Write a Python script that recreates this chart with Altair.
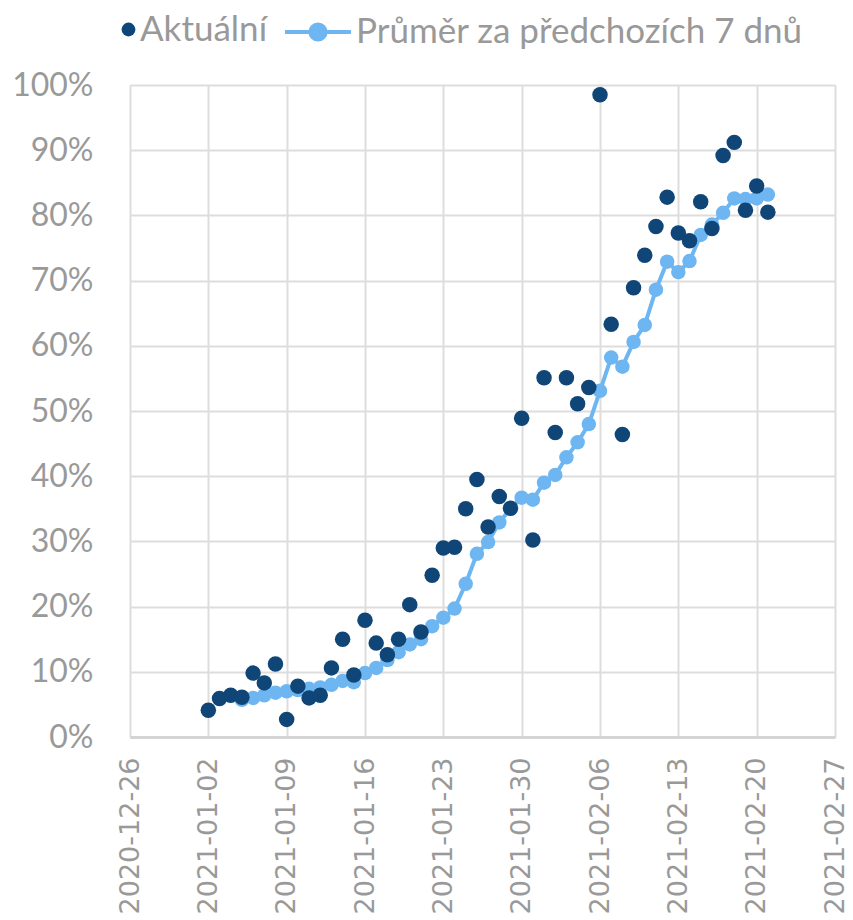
import altair as alt
import pandas as pd

# ---- data ----
actual_start = "2021-01-02"
actual_values = [4.1, 5.9, 6.4, 6.1, 9.8, 8.3, 11.2, 2.7, 7.8, 6.0, 6.4, 10.6, 15.0, 9.5,
                 17.9, 14.4, 12.6, 15.0, 20.3, 16.1, 24.8, 29.0, 29.1, 35.0, 39.5, 32.2,
                 36.9, 35.1, 48.9, 30.2, 55.1, 46.7, 55.1, 51.1, 53.6, 98.5, 63.3, 46.4,
                 68.9, 73.9, 78.3, 82.8, 77.3, 76.1, 82.1, 78.0, 89.2, 91.2, 80.8, 84.5, 80.5]
avg_start = "2021-01-05"
avg_values = [5.7, 6.0, 6.4, 6.8, 7.0, 7.2, 7.4, 7.6, 8.0, 8.6, 8.4, 9.8, 10.6, 11.8, 13.0,
              14.2, 15.0, 17.0, 18.3, 19.7, 23.5, 28.1, 29.9, 32.9, 35.0, 36.7, 36.4, 39.0,
              40.2, 42.9, 45.2, 48.0, 53.1, 58.2, 56.8, 60.6, 63.2, 68.6, 72.9, 71.3, 73.0,
              77.0, 78.6, 80.4, 82.6, 82.5, 82.6, 83.2]
tick_dates = ["2020-12-26", "2021-01-02", "2021-01-09", "2021-01-16", "2021-01-23",
              "2021-01-30", "2021-02-06", "2021-02-13", "2021-02-20", "2021-02-27"]
y_ticks = [0, 10, 20, 30, 40, 50, 60, 70, 80, 90, 100]

name_actual = "Aktuální"
name_avg = "Průměr za předchozích 7 dnů"

dark = "#0F4677"
light = "#6DB6F1"
grey_text = "#999999"
grid = "#DDDDDD"

df_actual = pd.DataFrame({
    "date": pd.date_range(actual_start, periods=len(actual_values), freq="D").strftime("%Y-%m-%d"),
    "value": actual_values,
    "series": name_actual,
})
df_avg = pd.DataFrame({
    "date": pd.date_range(avg_start, periods=len(avg_values), freq="D").strftime("%Y-%m-%d"),
    "value": avg_values,
    "series": name_avg,
})

def ms(d):
    return int(pd.Timestamp(d, tz="UTC").timestamp() * 1000)

tick_ms = [ms(d) for d in tick_dates]

x_enc = alt.X(
    "date:T",
    scale=alt.Scale(type="utc", domain=[tick_ms[0], tick_ms[-1]], nice=False),
    axis=alt.Axis(
        values=tick_ms, labelExpr="utcFormat(datum.value, '%Y-%m-%d')", labelAngle=-90,
        labelAlign="right", labelBaseline="middle", labelPadding=20,
        labelFont="DejaVu Sans", labelFontSize=27, labelColor=grey_text,
        tickSize=0, grid=True, gridColor=grid, gridWidth=2,
        domainColor="#D4D4D4", domainWidth=3, title=None, labelOverlap=False,
        labelFlush=False, labelBound=False,
    ),
)
y_enc = alt.Y(
    "value:Q",
    scale=alt.Scale(domain=[0, 100], nice=False),
    axis=alt.Axis(
        values=y_ticks, labelExpr="datum.value + '%'", labelPadding=37,
        labelFont="Lato", labelFontSize=32, labelColor=grey_text,
        tickSize=0, grid=True, gridColor=grid, gridWidth=2, domain=False, title=None,
    ),
)

line = alt.Chart(df_avg).mark_line(strokeWidth=4).encode(
    x=x_enc, y=y_enc,
    stroke=alt.Stroke(
        "series:N",
        scale=alt.Scale(domain=[name_avg], range=[light]),
        legend=alt.Legend(
            orient="none", legendX=153, legendY=-88, title=None,
            symbolType="M-1,0H1M0.23,0A0.23,0.23,0,1,1,-0.23,0A0.23,0.23,0,1,1,0.23,0",
            symbolSize=4356, symbolStrokeWidth=4, symbolFillColor=light,
            labelOffset=3, labelFont="Lato", labelFontSize=35, labelColor=grey_text,
            padding=0, labelLimit=700,
        ),
    ),
)
avg_pts = alt.Chart(df_avg).mark_circle(size=210, opacity=1, color=light).encode(x=x_enc, y=y_enc)

act_pts = alt.Chart(df_actual).mark_circle(size=240, opacity=1).encode(
    x=x_enc, y=y_enc,
    fill=alt.Fill(
        "series:N",
        scale=alt.Scale(domain=[name_actual], range=[dark]),
        legend=alt.Legend(
            orient="none", legendX=-19, legendY=-73, title=None,
            symbolType="circle", symbolSize=190, symbolStrokeWidth=0,
            labelOffset={"expr": "-6"}, labelFont="Lato", labelFontSize=35, labelColor=grey_text,
            padding=0,
        ),
    ),
)

chart = alt.layer(line, avg_pts, act_pts).resolve_legend(fill="independent", stroke="independent").properties(
    width=705, height=652,
    autosize=alt.AutoSizeParams(type="none"),
    padding={"left": 130, "top": 85, "right": 18, "bottom": 183},
).configure_view(stroke=None).configure(background="white")

chart.save("out.html", embed_options={"renderer": "svg", "actions": False})
